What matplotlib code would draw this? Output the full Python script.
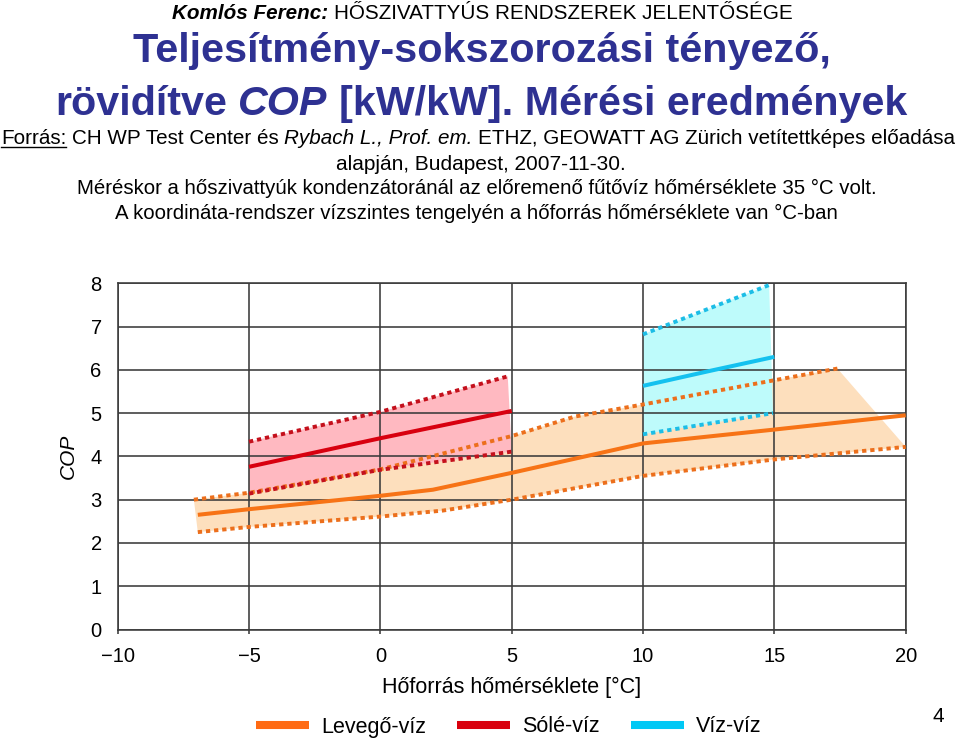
import numpy as np
import matplotlib
matplotlib.use("Agg")
import matplotlib.pyplot as plt
from matplotlib import font_manager
from matplotlib.lines import Line2D

# ---------------------------------------------------------------------------
# data (hoforras homerseklete [C] -> COP)
air_x = [-6.95, -5, 0, 2, 5, 10, 15, 20]
air_cop = [2.65, 2.78, 3.09, 3.23, 3.62, 4.30, 4.62, 4.95]
air_hi_x = [-7.1, -5, 0, 5, 7.4, 10, 15, 17.4]
air_hi = [3.00, 3.16, 3.70, 4.47, 4.92, 5.20, 5.76, 6.03]
air_lo_x = [-6.95, -5, 0, 2.4, 5, 10, 15, 20]
air_lo = [2.25, 2.37, 2.61, 2.75, 3.00, 3.55, 3.93, 4.22]

brine_x = [-5, 0, 5]
brine_cop = [3.76, 4.42, 5.05]
brine_hi_x = [-5, 0, 4.85]
brine_hi = [4.34, 5.03, 5.85]
brine_lo_x = [-5, 0, 5]
brine_lo = [3.14, 3.69, 4.11]

water_x = [10, 12.65, 15]
water_cop = [5.63, 5.99, 6.30]
water_hi_x = [10, 14.8]
water_hi = [6.82, 7.96]
water_lo_x = [10, 14.95]
water_lo = [4.51, 5.00]

names = ["Levegő-víz", "Sólé-víz", "Víz-víz"]
x_ticks = [-10, -5, 0, 5, 10, 15, 20]
y_ticks = [0, 1, 2, 3, 4, 5, 6, 7, 8]

# colours: line, dotted edge, band fill
c_air = ("#F77316", "#EC6F1C", "#FDDFBD")
c_brine = ("#D8000F", "#C4101C", "#FFB9C1")
c_water = ("#14C1EF", "#1CBDE6", "#BEFBFB")
legend_cols = ["#FF6A13", "#D9000D", "#00C8F5"]

# ---------------------------------------------------------------------------
plt.rcParams['font.family'] = ['Liberation Sans', 'DejaVu Sans']
have = {f.name for f in font_manager.fontManager.ttflist}
head_font = ['Liberation Sans Narrow', 'Liberation Sans'] if 'Liberation Sans Narrow' in have else ['Liberation Sans', 'DejaVu Sans']

W, H = 960, 739
fig = plt.figure(figsize=(W / 100, H / 100), dpi=100)
r = fig.canvas.get_renderer()


def fit_line(yc, runs, x0, x1, color="black", size=14, family=head_font, underline_first=False):
    # place several text runs on one line, scaled so the line spans x0..x1 (pixels)
    arts = [fig.text(0, 0, s, color=color, fontsize=size, family=family,
                     va="baseline", ha="left", **kw) for s, kw in runs]
    a1 = fig.text(0, 0, "x x", fontsize=size, family=family)
    a2 = fig.text(0, 0, "xx", fontsize=size, family=family)
    sp = a1.get_window_extent(r).width - a2.get_window_extent(r).width
    a1.remove()
    a2.remove()
    total = sum(a.get_window_extent(r).width for a in arts) + sp * (len(arts) - 1)
    k = (x1 - x0) / total
    for a in arts:
        a.set_fontsize(size * k)
    sp *= k
    base = yc + 0.36 * size * k * 100 / 72
    x = x0
    for a in arts:
        a.set_position((x / W, 1 - base / H))
        w = a.get_window_extent(r).width
        x += w + sp
    if underline_first:
        bb = arts[0].get_window_extent(r)
        fig.add_artist(Line2D([bb.x0 / W, bb.x1 / W], [1 - (base + 3) / H] * 2,
                              transform=fig.transFigure, color=color, lw=1))


B = {"fontweight": "bold"}
BI = {"fontweight": "bold", "fontstyle": "italic"}
I = {"fontstyle": "italic"}
N = {}

fit_line(12, [("Komlós Ferenc:", BI), ("HŐSZIVATTYÚS RENDSZEREK JELENTŐSÉGE", N)], 172, 790, size=12)
fit_line(47, [("Teljesítmény-sokszorozási tényező,", B)], 133, 832, color="#2E3192", size=30)
fit_line(100, [("rövidítve", B), ("COP", BI), ("[kW/kW]. Mérési eredmények", B)], 55, 908,
         color="#2E3192", size=30)
fit_line(137, [("Forrás:", N), ("CH WP Test Center és", N), ("Rybach L., Prof. em.", I),
               ("ETHZ, GEOWATT AG Zürich vetítettképes előadása", N)], 1, 957, size=14,
         underline_first=True)
fit_line(162, [("alapján, Budapest, 2007-11-30.", N)], 336, 628, size=14)
fit_line(187, [("Méréskor a hőszivattyúk kondenzátoránál az előremenő fűtővíz hőmérséklete 35 °C volt.", N)],
         77, 882, size=14)
fit_line(212, [("A koordináta-rendszer vízszintes tengelyén a hőforrás hőmérséklete van °C-ban", N)],
         115, 842, size=14)

# ---------------------------------------------------------------------------
ax = fig.add_axes([117.7 / W, 1 - 629.5 / H, (905.7 - 117.7) / W, (629.5 - 283.3) / H])

bands = [
    (air_x, air_cop, air_hi_x, air_hi, air_lo_x, air_lo, c_air),
    (brine_x, brine_cop, brine_hi_x, brine_hi, brine_lo_x, brine_lo, c_brine),
    (water_x, water_cop, water_hi_x, water_hi, water_lo_x, water_lo, c_water),
]
for mx, my, hx, hy, lx, ly, col in bands:
    ax.fill(np.concatenate([hx, lx[::-1]]), np.concatenate([hy, ly[::-1]]),
            color=col[2], lw=0, zorder=1)
for mx, my, hx, hy, lx, ly, col in bands:
    ax.plot(hx, hy, color=col[1], lw=2.8, dashes=(1.1, 1.0), zorder=3)
    ax.plot(lx, ly, color=col[1], lw=2.8, dashes=(1.1, 1.0), zorder=3)
    ax.plot(mx, my, color=col[0], lw=2.9, solid_capstyle="butt", zorder=4)

ax.set_xlim(-10, 20)
ax.set_ylim(0, 8)
ax.set_xticks(x_ticks)
ax.set_yticks(y_ticks)
ax.grid(True, color="#3a3a3a", lw=1.15)
for s in ax.spines.values():
    s.set_color("#3a3a3a")
    s.set_linewidth(1.15)
ax.tick_params(axis="y", length=0, pad=11.5, labelsize=14.5)
ax.tick_params(axis="x", length=3, width=1.15, color="#3a3a3a", pad=9.5, labelsize=14.5)
ax.set_xlabel("Hőforrás hőmérséklete [°C]", fontsize=15.5, labelpad=8)
ax.set_ylabel("COP", fontsize=15, fontstyle="italic", labelpad=9)

handles = [Line2D([], [], color=c, lw=5.8, solid_capstyle="butt") for c in legend_cols]
fig.legend(handles, names, loc="center", bbox_to_anchor=(509 / W, 1 - 727 / H), ncol=3,
           frameon=False, fontsize=15.5, handlelength=2.44, handletextpad=0.59,
           columnspacing=1.44, borderaxespad=0, borderpad=0)

fig.text(938 / W, 1 - 717 / H, "4", fontsize=15, ha="center", va="center")

fig.savefig("out.png", dpi=100)
